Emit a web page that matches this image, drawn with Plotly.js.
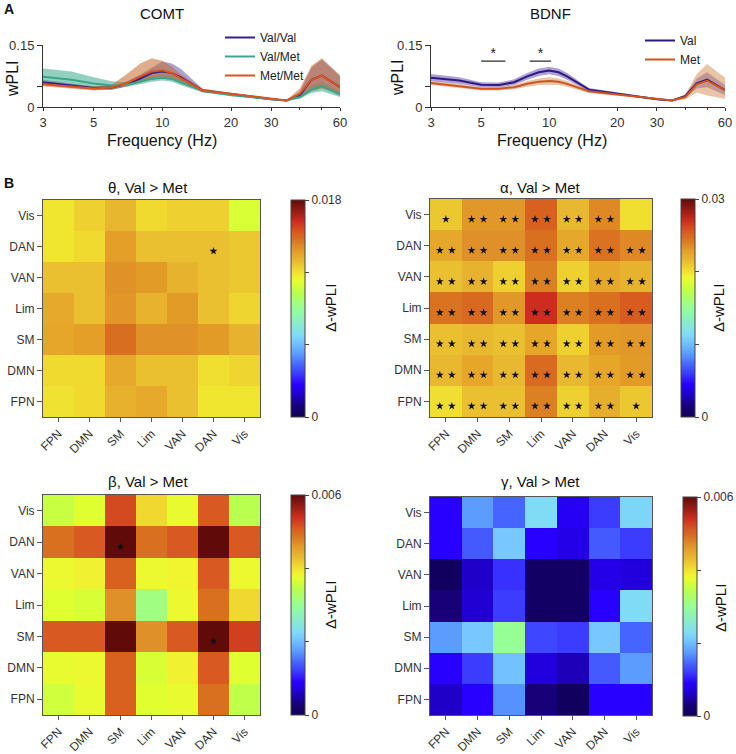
<!DOCTYPE html>
<html>
<head>
<meta charset="utf-8">
<script src="https://cdn.plot.ly/plotly-3.0.1.min.js"></script>
<style>
  html, body { margin: 0; padding: 0; background: #fff; }
  #myDiv { width: 736px; height: 754px; }
</style>
</head>
<body>
<div id="myDiv"></div>
<script>
// frequencies (Hz)
const freqs = [3, 4, 5, 6, 7, 8, 9, 10, 11, 12, 15, 20, 25, 30, 35, 40, 45, 50, 60];

// COMT
const valval    = [0.060, 0.053, 0.046, 0.047, 0.056, 0.069, 0.082, 0.086, 0.082, 0.072, 0.040, 0.031, 0.024, 0.019, 0.016, 0.028, 0.066, 0.076, 0.048];
const valvalHi  = [0.066, 0.058, 0.050, 0.051, 0.062, 0.078, 0.095, 0.110, 0.105, 0.093, 0.044, 0.034, 0.026, 0.021, 0.017, 0.036, 0.095, 0.115, 0.075];
const valvalLo  = [0.054, 0.048, 0.042, 0.043, 0.050, 0.060, 0.070, 0.072, 0.068, 0.060, 0.036, 0.028, 0.022, 0.017, 0.015, 0.022, 0.045, 0.050, 0.030];
const valmet    = [0.073, 0.066, 0.057, 0.052, 0.054, 0.061, 0.068, 0.071, 0.068, 0.060, 0.039, 0.029, 0.023, 0.019, 0.016, 0.024, 0.042, 0.050, 0.030];
const valmetHi  = [0.093, 0.086, 0.072, 0.062, 0.060, 0.068, 0.075, 0.078, 0.075, 0.067, 0.043, 0.032, 0.025, 0.021, 0.017, 0.028, 0.050, 0.060, 0.036];
const valmetLo  = [0.053, 0.048, 0.043, 0.042, 0.048, 0.055, 0.061, 0.064, 0.061, 0.053, 0.035, 0.026, 0.021, 0.017, 0.015, 0.020, 0.034, 0.038, 0.024];
const metmet    = [0.055, 0.050, 0.045, 0.047, 0.058, 0.074, 0.086, 0.089, 0.082, 0.070, 0.040, 0.032, 0.025, 0.020, 0.016, 0.032, 0.066, 0.076, 0.048];
const metmetHi  = [0.060, 0.055, 0.050, 0.054, 0.080, 0.105, 0.118, 0.112, 0.098, 0.080, 0.044, 0.034, 0.027, 0.021, 0.017, 0.045, 0.100, 0.118, 0.077];
const metmetLo  = [0.050, 0.045, 0.040, 0.042, 0.050, 0.060, 0.070, 0.074, 0.070, 0.062, 0.036, 0.029, 0.023, 0.018, 0.015, 0.022, 0.038, 0.045, 0.032];

// BDNF
const bVal   = [0.071, 0.064, 0.054, 0.053, 0.060, 0.074, 0.084, 0.088, 0.084, 0.074, 0.042, 0.032, 0.025, 0.019, 0.016, 0.026, 0.057, 0.066, 0.041];
const bValHi = [0.080, 0.072, 0.060, 0.059, 0.067, 0.082, 0.093, 0.097, 0.093, 0.082, 0.046, 0.035, 0.027, 0.021, 0.017, 0.030, 0.069, 0.084, 0.053];
const bValLo = [0.062, 0.056, 0.048, 0.047, 0.053, 0.066, 0.075, 0.079, 0.075, 0.066, 0.038, 0.029, 0.023, 0.017, 0.015, 0.022, 0.045, 0.048, 0.029];
const bMet   = [0.058, 0.051, 0.044, 0.044, 0.048, 0.056, 0.061, 0.063, 0.061, 0.056, 0.038, 0.030, 0.024, 0.019, 0.016, 0.024, 0.055, 0.064, 0.041];
const bMetHi = [0.063, 0.056, 0.048, 0.048, 0.053, 0.063, 0.069, 0.072, 0.069, 0.063, 0.042, 0.033, 0.026, 0.021, 0.017, 0.030, 0.080, 0.104, 0.071];
const bMetLo = [0.053, 0.046, 0.040, 0.040, 0.043, 0.049, 0.053, 0.054, 0.053, 0.049, 0.034, 0.027, 0.022, 0.017, 0.015, 0.018, 0.035, 0.028, 0.020];

// significance bars on BDNF (Hz)
const sigStart = [5.0, 8.2];
const sigEnd   = [6.4, 10.2];
const sigY     = [0.111, 0.111];

// networks (bottom -> top on y, left -> right on x)
const networks = ['FPN', 'DMN', 'SM', 'Lim', 'VAN', 'DAN', 'Vis'];

// rows: FPN, DMN, SM, Lim, VAN, DAN, Vis
const thetaZ = [
  [0.0120, 0.0122, 0.0132, 0.0134, 0.0128, 0.0119, 0.0119],
  [0.0122, 0.0122, 0.0134, 0.0128, 0.0128, 0.0121, 0.0123],
  [0.0135, 0.0137, 0.0148, 0.0140, 0.0140, 0.0138, 0.0131],
  [0.0134, 0.0128, 0.0139, 0.0131, 0.0138, 0.0128, 0.0123],
  [0.0128, 0.0128, 0.0140, 0.0138, 0.0131, 0.0128, 0.0126],
  [0.0119, 0.0122, 0.0137, 0.0128, 0.0128, 0.0128, 0.0126],
  [0.0119, 0.0124, 0.0130, 0.0122, 0.0124, 0.0124, 0.0110]
];
const thetaStars = [
  [0, 0, 0, 0, 0, 0, 0],
  [0, 0, 0, 0, 0, 0, 0],
  [0, 0, 0, 0, 0, 0, 0],
  [0, 0, 0, 0, 0, 0, 0],
  [0, 0, 0, 0, 0, 0, 0],
  [0, 0, 0, 0, 0, 1, 0],
  [0, 0, 0, 0, 0, 0, 0]
];

const alphaZ = [
  [0.0201, 0.0213, 0.0213, 0.0240, 0.0207, 0.0221, 0.0210],
  [0.0216, 0.0225, 0.0216, 0.0248, 0.0216, 0.0225, 0.0230],
  [0.0213, 0.0216, 0.0213, 0.0225, 0.0207, 0.0230, 0.0231],
  [0.0245, 0.0249, 0.0231, 0.0270, 0.0240, 0.0246, 0.0254],
  [0.0213, 0.0219, 0.0207, 0.0240, 0.0207, 0.0224, 0.0219],
  [0.0224, 0.0234, 0.0234, 0.0246, 0.0224, 0.0245, 0.0237],
  [0.0210, 0.0231, 0.0231, 0.0252, 0.0216, 0.0237, 0.0201]
];
const alphaStars = [
  [2, 2, 2, 2, 2, 2, 1],
  [2, 2, 2, 2, 2, 2, 2],
  [2, 2, 2, 2, 2, 2, 2],
  [2, 2, 2, 2, 2, 2, 2],
  [2, 2, 2, 2, 2, 2, 2],
  [2, 2, 2, 2, 2, 2, 2],
  [1, 2, 2, 2, 2, 2, 0]
];

const betaZ = [
  [0.00360, 0.00378, 0.00504, 0.00372, 0.00378, 0.00492, 0.00348],
  [0.00378, 0.00381, 0.00504, 0.00366, 0.00387, 0.00510, 0.00372],
  [0.00510, 0.00510, 0.00600, 0.00468, 0.00510, 0.00600, 0.00528],
  [0.00372, 0.00366, 0.00468, 0.00312, 0.00381, 0.00492, 0.00408],
  [0.00381, 0.00387, 0.00504, 0.00381, 0.00384, 0.00510, 0.00381],
  [0.00492, 0.00510, 0.00600, 0.00492, 0.00510, 0.00600, 0.00510],
  [0.00354, 0.00372, 0.00522, 0.00408, 0.00378, 0.00510, 0.00342]
];
const betaStars = [
  [0, 0, 0, 0, 0, 0, 0],
  [0, 0, 0, 0, 0, 0, 0],
  [0, 0, 0, 0, 0, 1, 0],
  [0, 0, 0, 0, 0, 0, 0],
  [0, 0, 0, 0, 0, 0, 0],
  [0, 0, 1, 0, 0, 0, 0],
  [0, 0, 0, 0, 0, 0, 0]
];

const gammaZ = [
  [0.00060, 0.00090, 0.00168, 0.00030, 0.00006, 0.00090, 0.00090],
  [0.00090, 0.00120, 0.00204, 0.00072, 0.00054, 0.00138, 0.00174],
  [0.00174, 0.00210, 0.00300, 0.00126, 0.00120, 0.00210, 0.00144],
  [0.00030, 0.00066, 0.00120, 0.00012, 0.00012, 0.00090, 0.00228],
  [0.00006, 0.00060, 0.00114, 0.00012, 0.00012, 0.00078, 0.00072],
  [0.00090, 0.00138, 0.00210, 0.00090, 0.00078, 0.00138, 0.00120],
  [0.00090, 0.00174, 0.00144, 0.00228, 0.00084, 0.00120, 0.00222]
];

const font = 'Liberation Sans, Arial, sans-serif';

const jet = [
  [0, 'rgb(16,0,88)'], [0.05, 'rgb(24,0,120)'], [0.1, 'rgb(30,0,200)'],
  [0.15, 'rgb(40,0,255)'], [0.2, 'rgb(60,60,255)'], [0.24, 'rgb(70,100,255)'],
  [0.29, 'rgb(90,156,255)'], [0.35, 'rgb(120,200,255)'], [0.38, 'rgb(128,220,245)'],
  [0.5, 'rgb(150,255,150)'], [0.57, 'rgb(184,255,80)'], [0.62, 'rgb(224,255,48)'],
  [0.64, 'rgb(240,245,48)'], [0.68, 'rgb(240,216,48)'], [0.72, 'rgb(232,184,48)'],
  [0.76, 'rgb(228,160,40)'], [0.78, 'rgb(224,144,40)'], [0.82, 'rgb(216,112,32)'],
  [0.85, 'rgb(216,90,32)'], [0.88, 'rgb(208,64,32)'], [0.9, 'rgb(205,45,30)'],
  [1, 'rgb(96,10,10)']
];

const W = 736, H = 754;
const px = v => v / W;
const py = v => 1 - v / H;

let data = [];

function band(x, hi, lo, color, xa, ya) {
  data.push({ x: x, y: hi, xaxis: xa, yaxis: ya, mode: 'lines', line: { width: 0 },
    showlegend: false, hoverinfo: 'skip', type: 'scatter' });
  data.push({ x: x, y: lo, xaxis: xa, yaxis: ya, mode: 'lines', line: { width: 0 },
    fill: 'tonexty', fillcolor: color, showlegend: false, hoverinfo: 'skip', type: 'scatter' });
}
function line(x, y, name, color, xa, ya, legend) {
  data.push({ x: x, y: y, name: name, xaxis: xa, yaxis: ya, mode: 'lines',
    line: { color: color, width: 2 }, legend: legend, type: 'scatter' });
}

// COMT
band(freqs, valvalHi, valvalLo, 'rgba(105,85,175,0.55)', 'x', 'y');
band(freqs, valmetHi, valmetLo, 'rgba(60,170,140,0.55)', 'x', 'y');
band(freqs, metmetHi, metmetLo, 'rgba(195,105,45,0.55)', 'x', 'y');
line(freqs, valval, 'Val/Val', '#35228c', 'x', 'y', 'legend');
line(freqs, valmet, 'Val/Met', '#3aa58a', 'x', 'y', 'legend');
line(freqs, metmet, 'Met/Met', '#d9541e', 'x', 'y', 'legend');

// BDNF
band(freqs, bValHi, bValLo, 'rgba(110,80,180,0.55)', 'x2', 'y2');
band(freqs, bMetHi, bMetLo, 'rgba(210,140,80,0.5)', 'x2', 'y2');
line(freqs, bVal, 'Val', '#2b1a80', 'x2', 'y2', 'legend2');
line(freqs, bMet, 'Met', '#d0541e', 'x2', 'y2', 'legend2');

for (let i = 0; i < sigStart.length; i++) {
  data.push({ x: [sigStart[i], sigEnd[i]], y: [sigY[i], sigY[i]], xaxis: 'x2', yaxis: 'y2',
    mode: 'lines', line: { color: '#222', width: 1.2 }, showlegend: false, hoverinfo: 'skip', type: 'scatter' });
  data.push({ x: [Math.sqrt(sigStart[i] * sigEnd[i])], y: [sigY[i]], xaxis: 'x2', yaxis: 'y2',
    mode: 'text', text: ['*'], textposition: 'top center', textfont: { size: 14, color: '#222', family: font },
    showlegend: false, hoverinfo: 'skip', type: 'scatter' });
}

// heatmaps
const idx = [0, 1, 2, 3, 4, 5, 6];
const maps = [
  { z: thetaZ, stars: thetaStars, max: 0.018, lab: '0.018', xa: 'x3', ya: 'y3', cbx: 291, cby: 200, cbh: 217 },
  { z: alphaZ, stars: alphaStars, max: 0.03, lab: '0.03', xa: 'x4', ya: 'y4', cbx: 681, cby: 199, cbh: 218 },
  { z: betaZ, stars: betaStars, max: 0.006, lab: '0.006', xa: 'x5', ya: 'y5', cbx: 291, cby: 495, cbh: 220 },
  { z: gammaZ, stars: null, max: 0.006, lab: '0.006', xa: 'x6', ya: 'y6', cbx: 683, cby: 497, cbh: 219 }
];
maps.forEach(m => {
  data.push({
    type: 'heatmap', z: m.z, x: idx, y: idx, xaxis: m.xa, yaxis: m.ya,
    colorscale: jet, zmin: 0, zmax: m.max,
    colorbar: {
      x: px(m.cbx), xanchor: 'left', xpad: 0, ypad: 0,
      y: py(m.cby + m.cbh / 2), yanchor: 'middle', len: m.cbh / H, lenmode: 'fraction',
      thickness: 14, outlinewidth: 1, outlinecolor: '#444',
      tickmode: 'array', tickvals: [0, m.max / 3, 2 * m.max / 3, m.max], ticktext: ['0', '', '', m.lab],
      ticks: 'outside', ticklen: 4, tickcolor: '#444', tickfont: { size: 12, family: font, color: '#333' }
    },
    hoverinfo: 'z'
  });
  if (m.stars) {
    let sx = [], sy = [];
    m.stars.forEach((row, r) => row.forEach((n, c) => {
      if (n === 1) { sx.push(c); sy.push(r - 0.15); }
      if (n === 2) { sx.push(c - 0.19, c + 0.19); sy.push(r - 0.15, r - 0.15); }
    }));
    data.push({ x: sx, y: sy, xaxis: m.xa, yaxis: m.ya, mode: 'markers', type: 'scatter',
      marker: { symbol: 'star', size: 6, color: '#111' }, showlegend: false, hoverinfo: 'skip' });
  }
});

const lineX = (d) => ({
  domain: d, type: 'log', range: [Math.log10(3), Math.log10(60)],
  tickmode: 'array', tickvals: [3, 5, 10, 20, 30, 60], ticktext: ['3', '5', '10', '20', '30', '60'],
  ticks: 'outside', ticklen: 3, tickcolor: '#333', showline: true, linecolor: '#333', linewidth: 1,
  showgrid: false, zeroline: false, tickfont: { size: 13, family: font, color: '#333' },
  minor: { tickmode: 'array', tickvals: [4, 6, 7, 8, 9, 40, 50], ticks: 'outside', ticklen: 2, tickcolor: '#333', showgrid: false }
});
const lineY = (d, anchor) => ({
  domain: d, range: [0, 0.15], anchor: anchor,
  tickmode: 'array', tickvals: [0, 0.05, 0.15], ticktext: ['0', '', '0.15'],
  ticks: 'outside', ticklen: 5, tickcolor: '#333', showline: true, linecolor: '#333', linewidth: 1,
  showgrid: false, zeroline: false, tickfont: { size: 13, family: font, color: '#333' }
});
const hmX = (d, anchor) => ({
  domain: d, anchor: anchor, range: [-0.5, 6.5], tickmode: 'array', tickvals: idx, ticktext: networks,
  tickangle: -45, ticks: 'outside', ticklen: 4, tickcolor: '#555', showline: true, mirror: true,
  linecolor: '#555', linewidth: 1, showgrid: false, zeroline: false,
  tickfont: { size: 12, family: font, color: '#333' }
});
const hmY = (d, anchor) => ({
  domain: d, anchor: anchor, range: [-0.5, 6.5], tickmode: 'array', tickvals: idx, ticktext: networks,
  ticks: 'outside', ticklen: 5, tickcolor: '#555', showline: true, mirror: true,
  linecolor: '#555', linewidth: 1, showgrid: false, zeroline: false,
  tickfont: { size: 12, family: font, color: '#333' }
});

const ann = (text, x, y, size, extra) => Object.assign({
  text: text, x: px(x), y: py(y), xref: 'paper', yref: 'paper', showarrow: false,
  xanchor: 'center', yanchor: 'middle', font: { size: size, family: font, color: '#111' }
}, extra || {});

const layout = {
  width: W, height: H, margin: { l: 0, r: 0, t: 0, b: 0 },
  paper_bgcolor: '#fff', plot_bgcolor: 'rgba(0,0,0,0)',
  font: { family: font },
  xaxis: lineX([px(43), px(340)]),
  yaxis: lineY([py(107), py(45)], 'x'),
  xaxis2: Object.assign(lineX([px(431), px(725)]), { anchor: 'y2' }),
  yaxis2: lineY([py(107), py(45)], 'x2'),
  xaxis3: hmX([px(43), px(260)], 'y3'),
  yaxis3: hmY([py(417), py(200)], 'x3'),
  xaxis4: hmX([px(430), px(652)], 'y4'),
  yaxis4: hmY([py(417), py(199)], 'x4'),
  xaxis5: hmX([px(43), px(260)], 'y5'),
  yaxis5: hmY([py(715), py(495)], 'x5'),
  xaxis6: hmX([px(430), px(652)], 'y6'),
  yaxis6: hmY([py(715), py(497)], 'x6'),
  legend: { x: px(220), y: py(23), xanchor: 'left', yanchor: 'top', bgcolor: 'rgba(0,0,0,0)', traceorder: 'normal',
    font: { size: 12, family: font, color: '#222' }, tracegroupgap: 0, itemwidth: 30 },
  legend2: { x: px(640), y: py(26), xanchor: 'left', yanchor: 'top', bgcolor: 'rgba(0,0,0,0)', traceorder: 'normal',
    font: { size: 12, family: font, color: '#222' }, tracegroupgap: 0, itemwidth: 30 },
  annotations: [
    ann('<b>A</b>', 9, 9, 14),
    ann('<b>B</b>', 9, 183, 14),
    ann('COMT', 162, 13, 15),
    ann('BDNF', 550, 13, 15),
    ann('wPLI', 13, 78, 16, { textangle: -90 }),
    ann('wPLI', 398, 78, 16, { textangle: -90 }),
    ann('Frequency (Hz)', 162, 140, 16),
    ann('Frequency (Hz)', 552, 140, 16),
    ann('θ, Val > Met', 148, 187, 15),
    ann('α, Val > Met', 540, 187, 15),
    ann('β, Val > Met', 148, 481, 15),
    ann('γ, Val > Met', 540, 481, 15),
    ann('Δ-wPLI', 330, 308, 15, { textangle: -90 }),
    ann('Δ-wPLI', 718, 308, 15, { textangle: -90 }),
    ann('Δ-wPLI', 330, 605, 15, { textangle: -90 }),
    ann('Δ-wPLI', 720, 608, 15, { textangle: -90 })
  ]
};

Plotly.newPlot('myDiv', data, layout, { displayModeBar: false });
</script>
</body>
</html>
